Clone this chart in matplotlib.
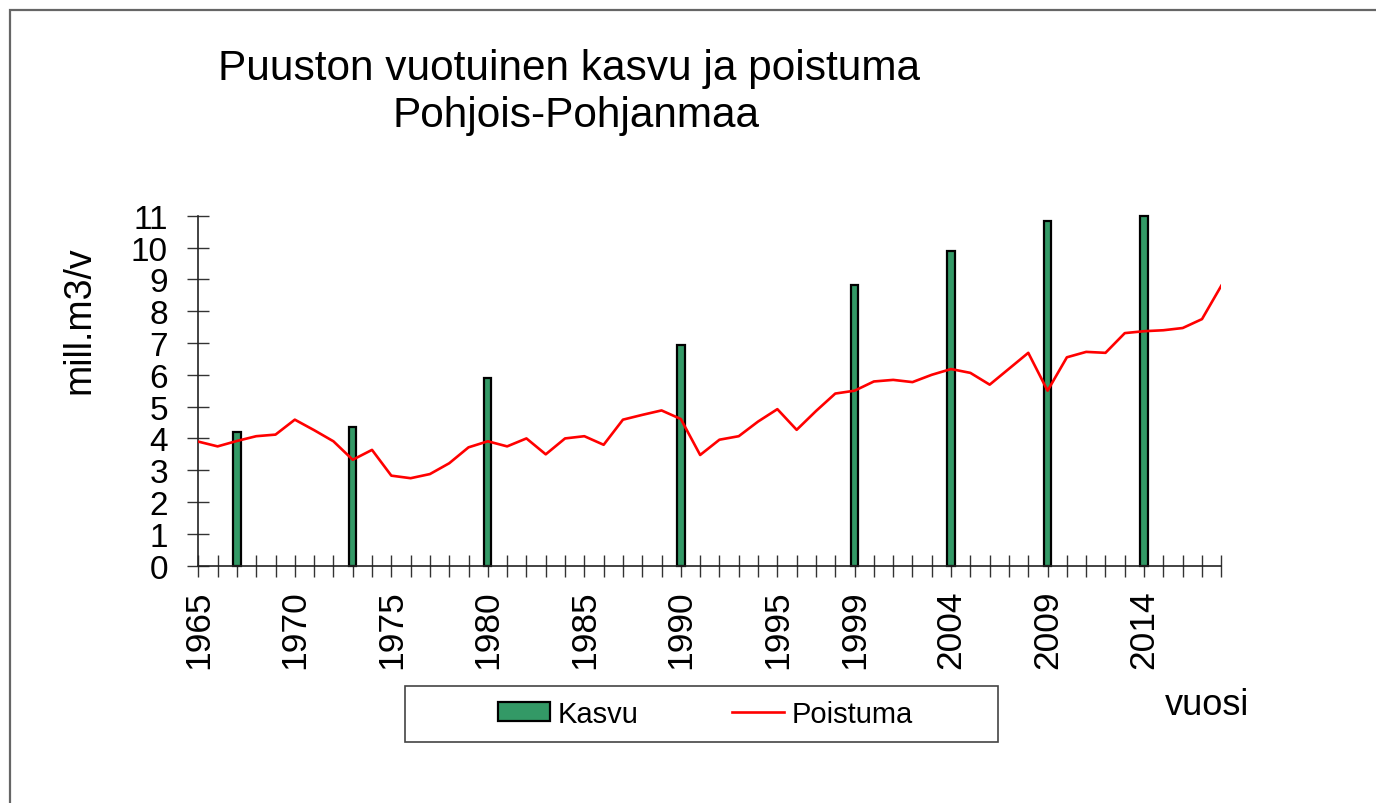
import matplotlib
matplotlib.use('Agg')
import matplotlib.pyplot as plt
from matplotlib.patches import Rectangle

plt.rcParams['font.family'] = ['Liberation Sans', 'DejaVu Sans']

# ---- data ----
years = list(range(1965, 2019))
poistuma = [3.90, 3.75, 3.92, 4.07, 4.12, 4.59, 4.26, 3.91, 3.33, 3.64,
            2.83, 2.75, 2.88, 3.22, 3.72, 3.91, 3.75, 4.00, 3.50, 4.00,
            4.07, 3.80, 4.59, 4.74, 4.88, 4.61, 3.48, 3.96, 4.07, 4.53,
            4.92, 4.27, 4.86, 5.41, 5.50, 5.79, 5.84, 5.77, 6.00, 6.18,
            6.06, 5.69, 6.19, 6.69, 5.50, 6.55, 6.72, 6.69, 7.31, 7.37,
            7.40, 7.47, 7.75, 8.80]
kasvu_years = [1967, 1973, 1980, 1990, 1999, 2004, 2009, 2014]
kasvu_values = [4.19, 4.35, 5.89, 6.94, 8.82, 9.90, 10.83, 11.0]
label_years = [1965, 1970, 1975, 1980, 1985, 1990, 1995, 1999, 2004, 2009, 2014]
y_ticks = list(range(0, 12))

title1 = 'Puuston vuotuinen kasvu ja poistuma'
title2 = 'Pohjois-Pohjanmaa'

# ---- layout ----
W, H = 1376, 804
fig = plt.figure(figsize=(W / 100, H / 100), dpi=100)


def fx(px):
    return px / W


def fy(py):
    return 1 - py / H


ax = fig.add_axes([fx(198.3), fy(566.7), fx(1221.3) - fx(198.3), fy(216.7) - fy(566.7)])
bars = ax.bar(kasvu_years, kasvu_values, width=0.38, color='#339966', edgecolor='black',
              linewidth=1.6, zorder=2, label='Kasvu', clip_on=False)
line, = ax.plot(years, poistuma, color='#ff0000', lw=1.9, zorder=3, label='Poistuma')

ax.set_xlim(years[0], years[-1])
ax.set_ylim(0, 11)
for s in ['top', 'right']:
    ax.spines[s].set_visible(False)
for s in ['left', 'bottom']:
    ax.spines[s].set_linewidth(1.2)
    ax.spines[s].set_color('#222222')

ax.set_xticks(years)
ax.set_xticklabels([str(y) if y in label_years else '' for y in years],
                   rotation=90, fontsize=25.5)
ax.set_yticks(y_ticks)
ax.set_yticklabels([str(v) for v in y_ticks], fontsize=24)
ax.tick_params(axis='both', direction='inout', length=15.8, width=1.0, color='#333333')
ax.tick_params(axis='x', pad=9)
ax.tick_params(axis='y', pad=14)

# legend
fig.legend([bars, line], ['Kasvu', 'Poistuma'], loc='center',
           bbox_to_anchor=(fx(705.5), fy(715)), ncol=2,
           frameon=False, fontsize=21, handlelength=1.8, handleheight=0.65,
           handletextpad=0.25, columnspacing=3.2, borderpad=0, borderaxespad=0)
fig.patches.append(Rectangle((fx(405), fy(743)), fx(998) - fx(405), fy(687) - fy(743),
                             transform=fig.transFigure, fill=False,
                             edgecolor='#444444', lw=1.2))
# outer chart border (left and top visible)
fig.patches.append(Rectangle((fx(10), -0.2), 1.5, fy(11) + 0.2,
                             transform=fig.transFigure, fill=False,
                             edgecolor='#666666', lw=1.6))

fig.text(fx(569), fy(80), title1, ha='center', va='baseline', fontsize=30.5)
fig.text(fx(576), fy(127), title2, ha='center', va='baseline', fontsize=30.5)
fig.text(fx(79), fy(320), 'mill.m3/v', rotation=90, ha='center', va='center', fontsize=27)
fig.text(fx(1165), fy(715), 'vuosi', ha='left', va='baseline', fontsize=26)

fig.savefig('out.png', dpi=100)
